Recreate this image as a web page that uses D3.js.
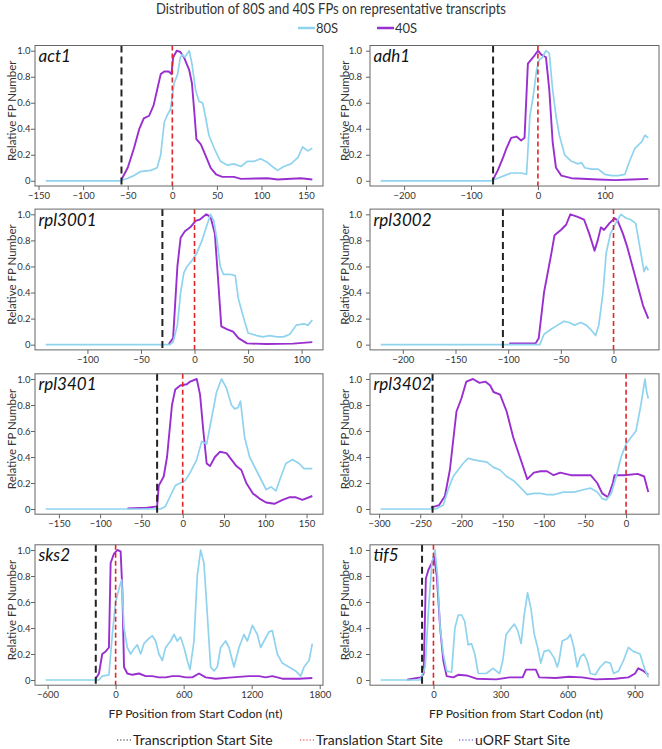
<!DOCTYPE html>
<html>
<head>
<meta charset="utf-8">
<script src="https://cdn.jsdelivr.net/npm/d3@7/dist/d3.min.js"></script>
<style>
  html, body { margin: 0; padding: 0; background: #fff; }
  svg { display: block; font-family: Lato, "Open Sans", sans-serif; }
</style>
</head>
<body>
<svg id="chart" width="662" height="749"></svg>
<script>
// ---------------- DATA ----------------
const seriesNames = ["80S", "40S"];
const siteNames = ["Transcription Start Site", "Translation Start Site", "uORF Start Site"];
const yTicks = [0, 0.2, 0.4, 0.6, 0.8, 1.0];
const yTickLabels = ["0", "0.2", "0.4", "0.6", "0.8", "1.0"];

const act1_80S = [[-142,0],[-58,0],[-50,0.02],[-43,0.04],[-36,0.07],[-24,0.08],[-17,0.1],[-13,0.2],[-9,0.45],[-6,0.5],[-2,0.55],[2,0.75],[6,0.82],[9,0.95],[11,0.97],[14,0.95],[19,1.0],[22,0.9],[26,0.7],[30,0.61],[34,0.6],[37,0.5],[41,0.35],[47,0.25],[54,0.15],[62,0.12],[69,0.13],[77,0.11],[84,0.15],[92,0.15],[99,0.17],[107,0.14],[114,0.1],[118,0.08],[125,0.11],[133,0.13],[141,0.18],[146,0.26],[152,0.23],[157,0.25]];
const act1_40S = [[-57,0.01],[-50,0.1],[-43,0.25],[-37,0.4],[-32,0.48],[-26,0.5],[-21,0.58],[-17,0.7],[-13,0.82],[-9,0.84],[-4,0.84],[-1,0.82],[1,0.95],[5,1.0],[9,0.99],[13,0.95],[19,0.85],[22,0.75],[25,0.5],[27,0.32],[32,0.28],[37,0.2],[43,0.1],[49,0.05],[56,0.03],[69,0.03],[77,0.015],[107,0.02],[118,0.01],[144,0.02],[157,0.01]];
const act1_ticks = [-150, -100, -50, 0, 50, 100, 150];
const act1_sites = [-57, 0];

const adh1_80S = [[-235,0],[-70,0],[-60,0.02],[-50,0.04],[-40,0.06],[-25,0.06],[-17,0.05],[-12,0.5],[-7,0.65],[-2,0.85],[2,0.93],[7,0.95],[12,1.0],[17,0.98],[22,0.7],[27,0.5],[32,0.35],[40,0.2],[50,0.15],[60,0.13],[65,0.14],[70,0.1],[80,0.09],[90,0.09],[100,0.05],[110,0.04],[120,0.04],[130,0.05],[137,0.15],[145,0.25],[155,0.3],[160,0.35],[165,0.33]];
const adh1_40S = [[-67,0.01],[-60,0.08],[-52,0.18],[-47,0.25],[-40,0.33],[-32,0.34],[-25,0.31],[-20,0.33],[-15,0.9],[-7,0.95],[0,1.0],[5,0.97],[12,0.95],[17,0.7],[22,0.3],[27,0.1],[35,0.04],[50,0.02],[90,0.01],[115,0.005],[140,0.01],[165,0.015]];
const adh1_ticks = [-200, -100, 0, 100];
const adh1_sites = [-67, 0];

const rpl3001_80S = [[-139,0],[-23,0],[-20,0.02],[-16,0.15],[-13,0.4],[-10,0.55],[-7,0.6],[-2,0.65],[2,0.7],[7,0.8],[11,0.9],[15,1.0],[18,0.95],[21,0.8],[24,0.6],[27,0.54],[33,0.54],[38,0.53],[41,0.35],[46,0.2],[50,0.09],[58,0.07],[64,0.06],[70,0.07],[77,0.06],[83,0.06],[89,0.08],[95,0.15],[102,0.16],[106,0.15],[110,0.19]];
const rpl3001_40S = [[-24,0.005],[-20,0.05],[-16,0.6],[-13,0.82],[-9,0.87],[-4,0.9],[1,0.95],[5,0.96],[11,1.0],[15,0.98],[19,0.85],[22,0.5],[25,0.14],[30,0.12],[36,0.1],[41,0.05],[49,0.01],[67,0.005],[92,0.008],[110,0.02]];
const rpl3001_ticks = [-100, -50, 0, 50, 100];
const rpl3001_sites = [-30, 0];

const rpl3002_80S = [[-221,0],[-70,0],[-66,0.08],[-59,0.12],[-53,0.15],[-47,0.18],[-42,0.17],[-37,0.15],[-31,0.17],[-26,0.15],[-22,0.12],[-17,0.07],[-14,0.15],[-10,0.4],[-7,0.7],[-3,0.85],[2,0.93],[7,1.0],[12,0.97],[16,0.96],[21,0.93],[26,0.7],[29,0.56],[31,0.6],[33,0.57]];
const rpl3002_40S = [[-99,0.01],[-74,0.01],[-71,0.05],[-66,0.4],[-59,0.7],[-56,0.84],[-50,0.88],[-45,0.92],[-41,1.0],[-34,0.98],[-28,0.96],[-23,0.85],[-18,0.72],[-15,0.8],[-12,0.9],[-9,0.88],[-4,0.93],[1,0.97],[4,0.95],[9,0.85],[13,0.75],[18,0.6],[23,0.45],[28,0.3],[31,0.24],[33,0.2]];
const rpl3002_ticks = [-200, -150, -100, -50, 0];
const rpl3002_sites = [-105, 0];

const rpl3401_80S = [[-166,0],[-27,0],[-21,0.02],[-15,0.1],[-9,0.18],[-3,0.2],[3,0.22],[9,0.28],[17,0.38],[23,0.52],[29,0.5],[35,0.7],[41,0.9],[47,1.0],[53,0.93],[59,0.8],[63,0.77],[67,0.78],[70,0.83],[75,0.55],[81,0.4],[89,0.3],[97,0.2],[101,0.15],[107,0.17],[113,0.14],[119,0.25],[125,0.35],[133,0.38],[141,0.35],[147,0.31],[157,0.31]];
const rpl3401_40S = [[-67,0.005],[-43,0.01],[-31,0.02],[-29,0.18],[-23,0.25],[-19,0.4],[-13,0.8],[-9,0.92],[-3,0.95],[5,0.96],[9,0.98],[17,1.0],[21,0.88],[25,0.6],[29,0.35],[33,0.33],[39,0.4],[45,0.44],[53,0.43],[59,0.38],[65,0.33],[71,0.3],[77,0.2],[85,0.12],[93,0.08],[101,0.05],[111,0.04],[121,0.07],[129,0.09],[137,0.09],[145,0.07],[157,0.1]];
const rpl3401_ticks = [-150, -100, -50, 0, 50, 100, 150];
const rpl3401_sites = [-31, 0];

const rpl3402_80S = [[-298,0],[-231,0],[-222,0.03],[-216,0.15],[-210,0.25],[-204,0.3],[-198,0.35],[-192,0.39],[-186,0.38],[-178,0.37],[-169,0.36],[-161,0.32],[-153,0.3],[-145,0.25],[-137,0.22],[-129,0.17],[-120,0.11],[-112,0.12],[-104,0.12],[-96,0.11],[-88,0.11],[-76,0.13],[-63,0.13],[-51,0.15],[-43,0.16],[-35,0.13],[-29,0.08],[-24,0.07],[-18,0.12],[-12,0.25],[-6,0.4],[0,0.5],[6,0.55],[12,0.6],[18,0.8],[23,1.0],[25,0.9],[27,0.85]];
const rpl3402_40S = [[-237,0.01],[-227,0.03],[-220,0.1],[-214,0.3],[-206,0.75],[-200,0.85],[-194,0.98],[-186,1.0],[-178,0.97],[-171,0.98],[-165,0.95],[-161,0.9],[-153,0.88],[-145,0.75],[-137,0.55],[-129,0.4],[-120,0.23],[-112,0.28],[-104,0.29],[-96,0.29],[-88,0.26],[-80,0.28],[-67,0.26],[-55,0.26],[-43,0.26],[-35,0.2],[-29,0.12],[-22,0.09],[-16,0.2],[-14,0.26],[-2,0.26],[14,0.27],[22,0.25],[27,0.13]];
const rpl3402_ticks = [-300, -250, -200, -150, -100, -50, 0];
const rpl3402_sites = [-235, 0];

const sks2_80S = [[-617,0],[-147,0],[-118,0.03],[-59,0.04],[-29,0.35],[0,0.6],[29,0.7],[53,0.77],[74,0.4],[103,0.25],[132,0.2],[162,0.24],[191,0.27],[221,0.2],[250,0.28],[294,0.32],[323,0.34],[353,0.3],[382,0.2],[412,0.15],[441,0.25],[485,0.3],[515,0.35],[544,0.3],[573,0.33],[603,0.25],[632,0.15],[656,0.08],[691,0.3],[720,0.8],[750,1.0],[779,0.9],[809,0.5],[838,0.1],[867,0.07],[897,0.1],[926,0.25],[970,0.3],[1000,0.25],[1044,0.1],[1088,0.25],[1132,0.35],[1162,0.3],[1206,0.42],[1250,0.35],[1279,0.25],[1309,0.3],[1353,0.37],[1382,0.38],[1426,0.2],[1470,0.13],[1529,0.1],[1588,0.07],[1632,0.03],[1662,0.1],[1706,0.15],[1735,0.28]];
const sks2_40S = [[-176,0.01],[-147,0.05],[-118,0.2],[-88,0.22],[-59,0.25],[-44,0.9],[-15,0.97],[15,1.0],[44,0.99],[59,0.7],[74,0.1],[103,0.05],[147,0.04],[206,0.05],[265,0.03],[323,0.03],[382,0.02],[441,0.02],[500,0.03],[559,0.03],[618,0.02],[676,0.02],[735,0.05],[794,0.02],[882,0.01],[1029,0.02],[1176,0.03],[1264,0.03],[1323,0.02],[1382,0.03],[1470,0.01],[1617,0.01],[1735,0.015]];
const sks2_ticks = [-600, 0, 600, 1200, 1800];
const sks2_sites = [-175, 0];

const tif5_80S = [[-236,0],[-59,0],[-37,0.1],[-22,0.55],[-7,0.9],[7,1.0],[18,0.8],[30,0.4],[44,0.2],[59,0.07],[81,0.06],[96,0.4],[111,0.5],[126,0.5],[140,0.45],[155,0.27],[170,0.28],[185,0.2],[200,0.05],[236,0.05],[266,0.09],[296,0.05],[310,0.15],[325,0.35],[347,0.4],[362,0.43],[377,0.38],[392,0.28],[406,0.5],[421,0.67],[436,0.55],[451,0.35],[466,0.25],[480,0.13],[495,0.22],[517,0.23],[540,0.17],[554,0.1],[562,0.15],[576,0.3],[599,0.32],[613,0.35],[628,0.25],[643,0.1],[658,0.18],[673,0.2],[687,0.15],[702,0.05],[724,0.04],[746,0.1],[769,0.14],[791,0.13],[806,0.05],[828,0.07],[850,0.15],[872,0.25],[894,0.22],[924,0.2],[946,0.08],[961,0.02]];
const tif5_40S = [[-118,0.002],[-59,0.02],[-51,0.03],[-44,0.05],[-34,0.78],[-22,0.85],[-7,0.9],[3,0.95],[15,0.8],[30,0.4],[44,0.15],[59,0.03],[89,0.02],[111,0.04],[148,0.035],[192,0.01],[281,0.005],[340,0.02],[399,0.02],[414,0.08],[458,0.08],[473,0.02],[547,0.015],[606,0.025],[665,0.02],[724,0.005],[813,0.01],[872,0.02],[902,0.05],[916,0.09],[939,0.07],[961,0.04]];
const tif5_ticks = [0, 300, 600, 900];
const tif5_sites = [-51, 0];

const panels = [
  { name: "act1",    s80: act1_80S,    s40: act1_40S,    ticks: act1_ticks,    sites: act1_sites },
  { name: "adh1",    s80: adh1_80S,    s40: adh1_40S,    ticks: adh1_ticks,    sites: adh1_sites },
  { name: "rpl3001", s80: rpl3001_80S, s40: rpl3001_40S, ticks: rpl3001_ticks, sites: rpl3001_sites },
  { name: "rpl3002", s80: rpl3002_80S, s40: rpl3002_40S, ticks: rpl3002_ticks, sites: rpl3002_sites },
  { name: "rpl3401", s80: rpl3401_80S, s40: rpl3401_40S, ticks: rpl3401_ticks, sites: rpl3401_sites },
  { name: "rpl3402", s80: rpl3402_80S, s40: rpl3402_40S, ticks: rpl3402_ticks, sites: rpl3402_sites },
  { name: "sks2",    s80: sks2_80S,    s40: sks2_40S,    ticks: sks2_ticks,    sites: sks2_sites },
  { name: "tif5",    s80: tif5_80S,    s40: tif5_40S,    ticks: tif5_ticks,    sites: tif5_sites }
];

// ---------------- LAYOUT ----------------
const colors = { s80: "#8fd3ee", s40: "#9a2fd0", tss: "#222222", tls: "#e0262b", uorf: "#3a3ad0" };
const cols = [{ x0: 35, x1: 323, ylabBase: 15.5, tickLabR: 30.5 }, { x0: 370, x1: 659, ylabBase: 349, tickLabR: 362 }];
const rows = [{ y0: 45.5, y1: 186 }, { y0: 209.1, y1: 349.9 }, { y0: 373.8, y1: 514.2 }, { y0: 544.8, y1: 685.2 }];

const svg = d3.select("#chart");

// Title
svg.append("text").attr("x", 331).attr("y", 14).attr("text-anchor", "middle")
  .attr("font-size", 14.5).attr("fill", "#333")
  .attr("textLength", 350).attr("lengthAdjust", "spacingAndGlyphs")
  .text("Distribution of 80S and 40S FPs on representative transcripts");

// Top legend
const topLeg = [{ label: seriesNames[0], color: colors.s80, x: 298 }, { label: seriesNames[1], color: colors.s40, x: 377 }];
topLeg.forEach(d => {
  svg.append("line").attr("x1", d.x).attr("x2", d.x + 17).attr("y1", 28).attr("y2", 28)
    .attr("stroke", d.color).attr("stroke-width", 2.5);
  svg.append("text").attr("x", d.x + 18).attr("y", 33).attr("font-size", 13).attr("fill", "#333").text(d.label);
});

panels.forEach((p, i) => {
  const c = cols[i % 2], r = rows[Math.floor(i / 2)];
  const all = p.s80.concat(p.s40);
  const ext = d3.extent(all, d => d[0]);
  const pad = (ext[1] - ext[0]) * 0.04;
  const x = d3.scaleLinear().domain([ext[0] - pad, ext[1] + pad]).range([c.x0, c.x1]);
  const y = d3.scaleLinear().domain([-0.04, 1.04]).range([r.y1, r.y0]);
  const g = svg.append("g");

  // x axis
  const xa = g.append("g").attr("transform", `translate(0,${r.y1})`)
    .call(d3.axisBottom(x).tickValues(p.ticks).tickSize(4).tickPadding(2).tickFormat(d3.format("d")));
  xa.select(".domain").remove();
  xa.selectAll("line").attr("stroke", "#666");
  xa.selectAll("text").attr("font-size", 9.5).attr("fill", "#333").attr("font-family", "Lato, sans-serif");

  // y axis
  const ya = g.append("g").attr("transform", `translate(${c.x0},0)`)
    .call(d3.axisLeft(y).tickValues(yTicks).tickSize(4).tickPadding(c.x0 - c.tickLabR - 4)
      .tickFormat((d, k) => yTickLabels[k]));
  ya.select(".domain").remove();
  ya.selectAll("line").attr("stroke", "#666");
  ya.selectAll("text").attr("font-size", 9.5).attr("fill", "#333").attr("font-family", "Lato, sans-serif");

  // y label
  g.append("text").attr("transform", `translate(${c.ylabBase},${y(0.5) - 5}) rotate(-90)`)
    .attr("text-anchor", "middle").attr("font-size", 11.5).attr("fill", "#333").text("Relative FP Number");

  const line = d3.line().x(d => x(d[0])).y(d => y(d[1]));
  g.append("path").datum(p.s40).attr("d", line).attr("fill", "none")
    .attr("stroke", colors.s40).attr("stroke-width", 1.9).attr("stroke-linejoin", "round");
  g.append("path").datum(p.s80).attr("d", line).attr("fill", "none")
    .attr("stroke", colors.s80).attr("stroke-width", 1.7).attr("stroke-linejoin", "round");

  // site lines
  g.append("line").attr("x1", x(p.sites[0])).attr("x2", x(p.sites[0])).attr("y1", r.y0).attr("y2", r.y1)
    .attr("stroke", colors.tss).attr("stroke-width", 2).attr("stroke-dasharray", "7,4");
  g.append("line").attr("x1", x(p.sites[1])).attr("x2", x(p.sites[1])).attr("y1", r.y0).attr("y2", r.y1)
    .attr("stroke", colors.tls).attr("stroke-width", 1.6).attr("stroke-dasharray", "5,3");

  // box
  g.append("rect").attr("x", c.x0).attr("y", r.y0).attr("width", c.x1 - c.x0).attr("height", r.y1 - r.y0)
    .attr("fill", "none").attr("stroke", "#666").attr("stroke-width", 1);

  // panel label
  g.append("text").attr("x", c.x0 + 3.5).attr("y", r.y0 + 16.5).attr("font-size", 17)
    .attr("font-style", "italic").attr("fill", "#111").text(p.name);
});

// x labels
[195.5, 516].forEach(cx => {
  svg.append("text").attr("x", cx).attr("y", 718).attr("text-anchor", "middle")
    .attr("font-size", 12).attr("fill", "#222").text("FP Position from Start Codon (nt)");
});

// bottom legend
const botLeg = [
  { label: siteNames[0], color: colors.tss, x: 117 },
  { label: siteNames[1], color: colors.tls, x: 300 },
  { label: siteNames[2], color: colors.uorf, x: 459 }
];
botLeg.forEach(d => {
  svg.append("line").attr("x1", d.x).attr("x2", d.x + 14).attr("y1", 740).attr("y2", 740)
    .attr("stroke", d.color).attr("stroke-width", 1.2).attr("stroke-dasharray", "1.2,2");
  svg.append("text").attr("x", d.x + 16).attr("y", 745).attr("font-size", 14).attr("fill", "#222").text(d.label);
});
</script>
</body>
</html>
